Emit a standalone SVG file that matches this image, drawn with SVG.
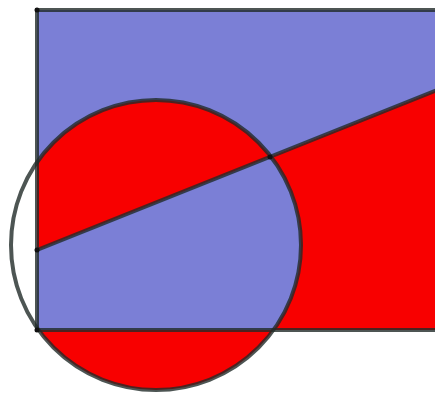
<svg xmlns="http://www.w3.org/2000/svg" width="435" height="394" viewBox="0 0 435 394">
  <defs>
    <clipPath id="circ">
      <circle cx="156" cy="245" r="145"/>
    </clipPath>
    <style>
      .blue { fill: #7b7fd6; }
      .red { fill: #f80000; }
      .edge { fill: none; stroke: #202a28; stroke-opacity: 0.8; stroke-width: 4; }
      .pt { fill: #111; }
    </style>
  </defs>
  <rect width="435" height="394" fill="#ffffff"/>
  <g id="regions">
    <polygon class="blue" points="37,10 437,10 437,90 37,250"/>
    <polygon class="red" points="37,250 437,90 437,330 37,330"/>
    <g clip-path="url(#circ)">
      <polygon class="red" points="37,10 437,10 437,90 37,250"/>
      <polygon class="blue" points="37,250 437,90 437,330 37,330"/>
      <rect class="red" x="37" y="330" width="400" height="70"/>
    </g>
  </g>
  <g id="edges">
    <polyline class="edge" points="437,10 37,10 37,330 437,330"/>
    <line class="edge" x1="37" y1="250" x2="437" y2="90"/>
    <circle class="edge" cx="156" cy="245" r="145"/>
  </g>
  <g id="points">
    <circle class="pt" cx="37" cy="10" r="2.5"/>
    <circle class="pt" cx="37" cy="250" r="2.5"/>
    <circle class="pt" cx="37" cy="330" r="2.5"/>
    <circle class="pt" cx="270" cy="157" r="2.5"/>
  </g>
</svg>
